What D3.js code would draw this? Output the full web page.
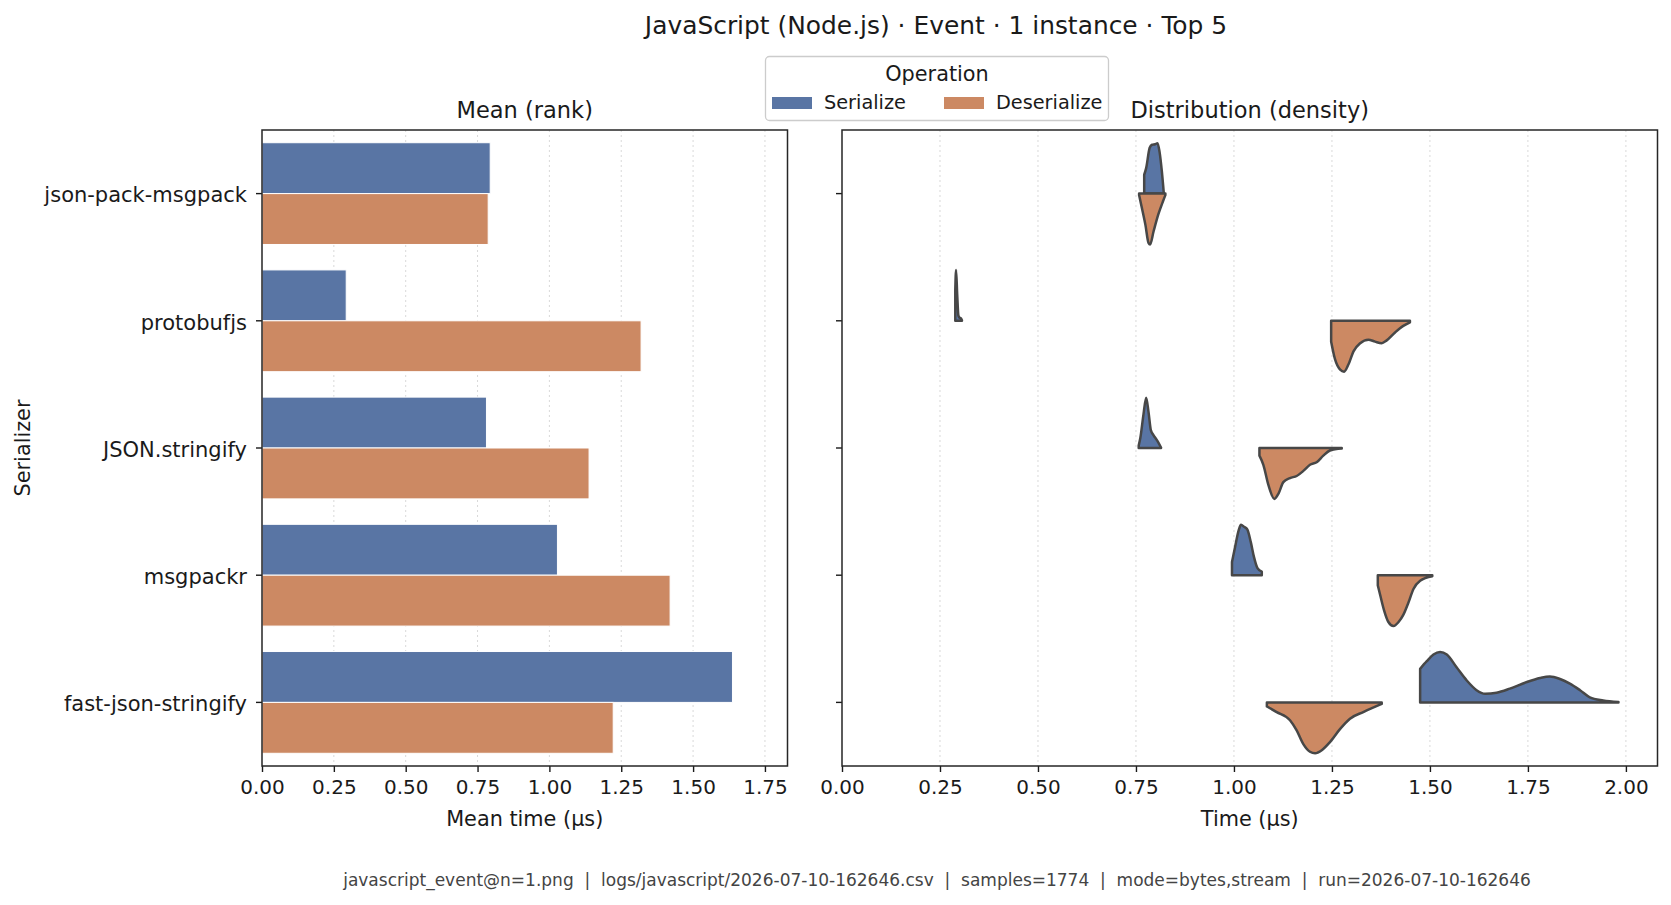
<!DOCTYPE html>
<html>
<head>
<meta charset="utf-8">
<script src="https://cdn.jsdelivr.net/npm/d3@7"></script>
<style>
  body { margin: 0; background: #fff; }
  svg { display: block; font-family: "DejaVu Sans", sans-serif; }
</style>
</head>
<body>
<div id="my_dataviz"><svg></svg></div>
<script>
// chart values
var serializers = ["json-pack-msgpack", "protobufjs", "JSON.stringify", "msgpackr", "fast-json-stringify"];
var operations = ["Serialize", "Deserialize"];
var serializeMean = [0.794, 0.293, 0.781, 1.028, 1.637];
var deserializeMean = [0.787, 1.319, 1.138, 1.420, 1.222];
var meanTicks = [0, 0.25, 0.5, 0.75, 1.0, 1.25, 1.5, 1.75];
var timeTicks = [0, 0.25, 0.5, 0.75, 1.0, 1.25, 1.5, 1.75, 2.0];

// density outlines: [time (µs), relative density]
var serializeDensity = [
    [[0.771, 0.37], [0.776, 0.50], [0.785, 0.90], [0.791, 0.96], [0.799, 0.97], [0.805, 0.99], [0.810, 0.83], [0.816, 0.44], [0.821, 0.01]],
    [[0.289, 0.60], [0.291, 1.00], [0.294, 0.50], [0.297, 0.10], [0.300, 0.06], [0.303, 0.05], [0.306, 0.01]],
    [[0.757, 0.05], [0.761, 0.19], [0.769, 0.65], [0.776, 0.99], [0.782, 0.71], [0.788, 0.35], [0.795, 0.25], [0.803, 0.16], [0.814, 0.01]],
    [[0.995, 0.26], [1.003, 0.56], [1.012, 0.88], [1.018, 0.99], [1.026, 0.95], [1.034, 0.90], [1.043, 0.65], [1.051, 0.36], [1.060, 0.14], [1.071, 0.07]],
    [[1.475, 0.66], [1.492, 0.81], [1.509, 0.94], [1.526, 0.99], [1.543, 0.94], [1.568, 0.69], [1.594, 0.43], [1.619, 0.24], [1.641, 0.17], [1.670, 0.19],
     [1.704, 0.27], [1.747, 0.40], [1.781, 0.48], [1.806, 0.51], [1.832, 0.46], [1.857, 0.37], [1.883, 0.24], [1.908, 0.10], [1.942, 0.04], [1.981, 0.01]]
];
var deserializeDensity = [
    [[0.758, 0.03], [0.765, 0.28], [0.774, 0.61], [0.782, 0.97], [0.786, 1.00], [0.795, 0.74], [0.807, 0.41], [0.819, 0.15], [0.825, 0.03]],
    [[1.248, 0.41], [1.258, 0.76], [1.271, 0.96], [1.281, 1.00], [1.292, 0.86], [1.305, 0.60], [1.322, 0.44], [1.343, 0.37], [1.360, 0.41],
     [1.377, 0.44], [1.389, 0.39], [1.411, 0.23], [1.432, 0.10], [1.449, 0.03]],
    [[1.065, 0.15], [1.075, 0.33], [1.088, 0.73], [1.103, 1.00], [1.114, 0.89], [1.126, 0.67], [1.143, 0.59], [1.160, 0.55], [1.177, 0.45],
     [1.194, 0.33], [1.211, 0.28], [1.228, 0.15], [1.245, 0.05], [1.275, 0.01]],
    [[1.367, 0.20], [1.374, 0.42], [1.383, 0.69], [1.394, 0.92], [1.407, 1.00], [1.420, 0.92], [1.432, 0.78], [1.445, 0.54], [1.458, 0.27],
     [1.475, 0.11], [1.506, 0.02]],
    [[1.084, 0.08], [1.109, 0.19], [1.143, 0.35], [1.160, 0.55], [1.177, 0.82], [1.194, 0.97], [1.207, 1.00], [1.224, 0.94], [1.245, 0.78],
     [1.271, 0.52], [1.296, 0.32], [1.330, 0.19], [1.377, 0.03]]
];

var footerText = "javascript_event@n=1.png  |  logs/javascript/2026-07-10-162646.csv  |  samples=1774  |  mode=bytes,stream  |  run=2026-07-10-162646";

var W = 1671, H = 905;
var colors = {"Serialize": "#5975a4", "Deserialize": "#cc8963"};
var edge = "#474747";
var textColor = "#1a1a1a";

var svg = d3.select("#my_dataviz").select("svg")
    .attr("width", W)
    .attr("height", H);

var plotTop = 130, plotBottom = 766;
var leftPanel = {x0: 262, x1: 787.5};
var rightPanel = {x0: 842, x1: 1657.5};

var yBand = d3.scaleBand()
    .domain(serializers)
    .range([plotTop, plotBottom])
    .paddingInner(0)
    .paddingOuter(0);
var half = yBand.bandwidth() * 0.4;

// dotted grid goes underneath the marks
function drawGrid(g, xScale, ticks) {
    g.append("g").selectAll("line")
        .data(ticks.filter(function (t) { return t > 0; }))
        .enter()
        .append("line")
        .attr("x1", function (d) { return xScale(d); })
        .attr("x2", function (d) { return xScale(d); })
        .attr("y1", plotTop)
        .attr("y2", plotBottom)
        .attr("stroke", "#d9d9d9")
        .attr("stroke-width", 1)
        .attr("stroke-dasharray", "2,3");
}

function drawAxes(g, xScale, ticks, showLabels, label, title, panel) {
    g.append("g")
        .attr("transform", "translate(0," + plotBottom + ")")
        .call(d3.axisBottom(xScale).tickValues(ticks).tickFormat(d3.format(".2f")).tickSizeOuter(0).tickSize(6))
        .call(function (a) {
            a.select(".domain").remove();
            a.selectAll("line").attr("stroke", textColor).attr("stroke-width", 1.4);
            a.selectAll("text").attr("font-size", "20px").attr("fill", textColor).attr("dy", "0.95em")
                .attr("font-family", "DejaVu Sans");
        });

    var yAx = d3.axisLeft(yBand).tickSize(6).tickSizeOuter(0).tickPadding(3);
    if (!showLabels) yAx.tickFormat("");
    g.append("g")
        .attr("transform", "translate(" + panel.x0 + ",0)")
        .call(yAx)
        .call(function (a) {
            a.select(".domain").remove();
            a.selectAll("line").attr("stroke", textColor).attr("stroke-width", 1.4);
            a.selectAll("text").attr("font-size", "21px").attr("fill", textColor)
                .attr("dx", "-6px").attr("dy", "0.42em")
                .attr("font-family", "DejaVu Sans");
        });

    g.append("rect")
        .attr("x", panel.x0)
        .attr("y", plotTop)
        .attr("width", panel.x1 - panel.x0)
        .attr("height", plotBottom - plotTop)
        .attr("fill", "none")
        .attr("stroke", "#262626")
        .attr("stroke-width", 1.5);

    g.append("text")
        .attr("x", (panel.x0 + panel.x1) / 2)
        .attr("y", 826)
        .attr("text-anchor", "middle")
        .attr("font-size", "20.8px")
        .attr("fill", textColor)
        .text(label);

    g.append("text")
        .attr("x", (panel.x0 + panel.x1) / 2)
        .attr("y", 118)
        .attr("text-anchor", "middle")
        .attr("font-size", "22.5px")
        .attr("fill", textColor)
        .text(title);
}

/* left: mean bars */
var xMean = d3.scaleLinear().domain([0, 1.8285]).range([leftPanel.x0, leftPanel.x1]);
var left = svg.append("g");
drawGrid(left, xMean, meanTicks);

var barRows = [];
serializers.forEach(function (s, i) {
    barRows.push({name: s, op: "Serialize", value: serializeMean[i]});
    barRows.push({name: s, op: "Deserialize", value: deserializeMean[i]});
});

left.append("g").selectAll("rect")
    .data(barRows)
    .enter()
    .append("rect")
    .attr("x", xMean(0))
    .attr("y", function (d) {
        var c = yBand(d.name) + yBand.bandwidth() / 2;
        return d.op == "Serialize" ? c - half : c;
    })
    .attr("width", function (d) { return xMean(d.value) - xMean(0); })
    .attr("height", half)
    .attr("fill", function (d) { return colors[d.op]; })
    .attr("stroke", "#fff")
    .attr("stroke-width", 1);

drawAxes(left, xMean, meanTicks, true, "Mean time (µs)", "Mean (rank)", leftPanel);

/* right: split violins */
var xTime = d3.scaleLinear().domain([0, 2.0806]).range([rightPanel.x0, rightPanel.x1]);
var right = svg.append("g");
drawGrid(right, xTime, timeTicks);
var wScale = d3.scaleLinear().domain([0, 1]).range([0, half]);

var violinG = right.append("g");
serializers.forEach(function (s, i) {
    var c = yBand(s) + yBand.bandwidth() / 2;
    var upper = d3.area()
        .curve(d3.curveMonotoneX)
        .x(function (d) { return xTime(d[0]); })
        .y0(c)
        .y1(function (d) { return c - wScale(d[1]); });
    var lower = d3.area()
        .curve(d3.curveMonotoneX)
        .x(function (d) { return xTime(d[0]); })
        .y0(c)
        .y1(function (d) { return c + wScale(d[1]); });

    violinG.append("path")
        .datum(serializeDensity[i])
        .attr("d", upper)
        .attr("fill", colors.Serialize)
        .attr("stroke", edge)
        .attr("stroke-width", 2.5)
        .attr("stroke-linejoin", "round");

    violinG.append("path")
        .datum(deserializeDensity[i])
        .attr("d", lower)
        .attr("fill", colors.Deserialize)
        .attr("stroke", edge)
        .attr("stroke-width", 2.5)
        .attr("stroke-linejoin", "round");
});

drawAxes(right, xTime, timeTicks, false, "Time (µs)", "Distribution (density)", rightPanel);

// y label
svg.append("text")
    .attr("transform", "translate(30," + ((plotTop + plotBottom) / 2) + ") rotate(-90)")
    .attr("text-anchor", "middle")
    .attr("font-size", "20.8px")
    .attr("fill", textColor)
    .text("Serializer");

// suptitle
svg.append("text")
    .attr("x", 936)
    .attr("y", 34)
    .attr("text-anchor", "middle")
    .attr("font-size", "24.9px")
    .attr("fill", textColor)
    .text("JavaScript (Node.js) · Event · 1 instance · Top 5");

/* legend */
var legend = svg.append("g");
legend.append("rect")
    .attr("x", 765.5)
    .attr("y", 56.5)
    .attr("width", 343)
    .attr("height", 64)
    .attr("rx", 4)
    .attr("fill", "#fff")
    .attr("fill-opacity", 0.8)
    .attr("stroke", "#cccccc")
    .attr("stroke-width", 1.3);

legend.append("text")
    .attr("x", 937)
    .attr("y", 81)
    .attr("text-anchor", "middle")
    .attr("font-size", "20.8px")
    .attr("fill", textColor)
    .text("Operation");

var legendX = [772, 944];
legend.selectAll(".entry")
    .data(operations)
    .enter()
    .append("g")
    .attr("class", "entry")
    .attr("transform", function (d, i) { return "translate(" + legendX[i] + ",97)"; })
    .each(function (d) {
        var e = d3.select(this);
        e.append("rect")
            .attr("width", 40)
            .attr("height", 12)
            .attr("fill", colors[d]);
        e.append("text")
            .attr("x", 52)
            .attr("y", 12)
            .attr("font-size", "19.3px")
            .attr("fill", textColor)
            .text(d);
    });

// footer
svg.append("text")
    .attr("x", 937)
    .attr("y", 886)
    .attr("text-anchor", "middle")
    .attr("font-size", "17px")
    .attr("fill", "#444")
    .attr("xml:space", "preserve")
    .style("white-space", "pre")
    .text(footerText);
</script>
</body>
</html>
